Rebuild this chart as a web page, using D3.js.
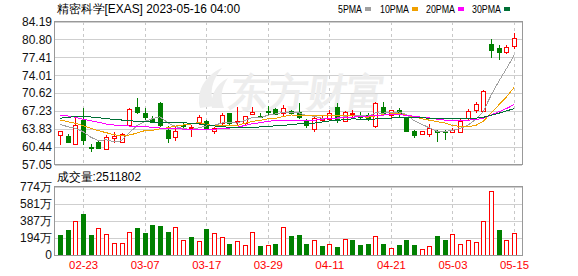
<!DOCTYPE html>
<html>
<head>
<meta charset="utf-8">
<title>EXAS daily</title>
<style>
  body { margin: 0; background: #fff; }
  text { font-family: "Liberation Sans", Arial, sans-serif; }
</style>
</head>
<body>
<script src="https://d3js.org/d3.v7.min.js"></script>
<script>

// trading days shown (2023)
var dates = ['02-17','02-21','02-22','02-23','02-24','02-27','02-28','03-01','03-02','03-03',
             '03-06','03-07','03-08','03-09','03-10','03-13','03-14','03-15','03-16','03-17',
             '03-20','03-21','03-22','03-23','03-24','03-27','03-28','03-29','03-30','03-31',
             '04-03','04-04','04-05','04-06','04-10','04-11','04-12','04-13','04-14','04-17',
             '04-18','04-19','04-20','04-21','04-24','04-25','04-26','04-27','04-28','05-01',
             '05-02','05-03','05-04','05-05','05-08','05-09','05-10','05-11','05-12','05-15'];

var open  = [62.68,62.55,61.03,65.52,60.35,61.41,60.03,62.05,61.41,64.57,
             68.04,66.79,65.71,68.69,63.62,62.35,64.48,64.05,65.01,65.39,
             63.49,64.89,66.85,65.05,64.89,66.66,66.34,67.32,67.55,66.79,
             67.28,67.09,65.33,63.82,65.52,65.71,68.04,65.33,66.72,66.19,
             66.47,64.44,68.04,66.47,67.42,65.96,63.44,62.81,62.81,63.44,
             63.50,63.34,63.30,65.96,67.42,67.23,79.87,79.11,78.35,79.60];
var close = [63.44,61.41,64.57,61.73,60.16,60.22,62.24,62.55,62.81,67.61,
             67.09,66.15,65.20,64.57,62.05,63.49,64.29,64.20,66.03,63.95,
             64.00,66.47,64.95,65.33,66.28,66.98,66.24,67.23,66.66,67.74,
             66.79,66.15,64.57,65.96,65.84,66.79,65.52,66.98,66.85,66.09,
             65.71,68.69,66.79,67.42,66.60,63.44,62.68,63.44,64.06,63.35,
             63.25,63.63,65.24,67.23,68.50,71.02,78.79,78.35,79.41,81.01];
var high  = [63.44,62.81,65.84,67.85,60.92,61.54,62.68,63.19,63.00,67.85,
             69.63,67.74,66.28,68.99,64.38,64.20,65.14,64.48,66.47,65.52,
             64.25,66.91,66.94,68.04,66.28,68.04,66.91,68.17,67.74,68.36,
             67.51,68.80,65.71,66.47,66.34,67.42,68.69,67.23,67.42,67.09,
             66.79,68.99,68.99,67.42,67.74,65.96,63.63,63.44,64.70,63.63,
             63.72,63.95,65.62,67.61,68.99,71.21,80.87,79.74,79.74,81.95];
var low   = [60.78,61.11,60.78,60.78,59.51,60.03,59.84,61.11,61.16,64.20,
             66.60,65.52,64.89,64.20,61.16,61.54,63.63,62.35,64.57,63.63,
             62.87,64.57,64.57,64.57,64.29,66.47,65.84,66.47,66.47,66.15,
             66.66,65.65,64.06,63.30,65.20,65.33,64.89,65.09,66.15,65.52,
             65.33,63.95,66.34,65.84,66.15,63.30,62.05,62.81,62.35,61.29,
             61.73,62.99,63.30,65.52,66.79,67.09,77.22,76.89,77.97,78.98];

// moving averages as drawn
var ma5  = [64.71,64.25,63.95,63.30,62.26,61.62,61.78,61.38,61.59,63.08,
            64.47,65.24,65.77,66.12,65.01,64.29,63.92,63.72,64.01,64.39,
            64.49,64.95,65.08,64.94,65.41,66.00,65.96,66.41,66.68,66.97,
            66.93,66.91,66.38,66.24,65.86,65.86,65.74,66.22,66.40,66.45,
            66.23,66.86,66.83,66.94,67.04,66.59,65.39,64.72,64.04,63.39,
            63.33,63.55,63.90,64.54,65.59,67.12,70.16,72.78,75.21,77.72];
var ma10 = [65.52,65.20,64.89,64.44,63.95,63.49,63.12,62.75,62.50,62.67,
            63.03,63.51,63.57,63.85,64.04,64.38,64.58,64.75,65.07,64.70,
            64.41,64.43,64.40,64.48,64.90,65.25,65.45,65.75,65.80,66.18,
            66.47,66.44,66.40,66.46,66.42,66.40,66.33,66.30,66.32,66.15,
            66.05,66.30,66.52,66.67,66.74,66.41,66.13,65.77,65.49,65.21,
            64.97,64.47,64.31,64.29,64.48,65.24,66.85,68.34,69.88,71.65];
var ma20 = [66.47,66.28,66.03,65.65,65.39,65.09,64.76,64.57,64.44,64.38,
            64.32,64.25,64.14,64.00,63.95,63.90,63.80,63.75,63.70,63.69,
            63.72,63.97,63.99,64.17,64.47,64.81,65.01,65.25,65.44,65.45,
            65.43,65.43,65.40,65.47,65.66,65.82,65.89,66.02,66.06,66.17,
            66.26,66.37,66.46,66.56,66.58,66.40,66.23,66.04,65.91,65.68,
            65.51,65.38,65.42,65.48,65.61,65.82,66.49,67.06,67.68,68.43];
var ma30 = [65.84,66.03,66.15,66.15,66.09,65.96,65.77,65.65,65.52,65.39,
            65.27,65.20,65.14,65.08,65.08,65.01,65.00,64.90,64.80,64.60,
            64.40,64.25,64.15,64.15,64.15,64.15,64.20,64.35,64.40,64.52,
            64.63,64.79,64.79,64.93,65.12,65.34,65.45,65.60,65.73,65.68,
            65.64,65.72,65.77,65.87,66.02,66.02,65.97,65.94,65.87,65.85,
            65.83,65.73,65.74,65.81,65.88,66.02,66.43,66.80,67.23,67.67];

// volume in 万 shares, and whether the bar is drawn as an "up" day
var volume = [227,283,381,465,227,302,238,132,132,261,
              306,253,340,329,264,317,170,204,159,295,
              245,200,125,159,110,261,102,110,125,313,
              215,227,125,166,102,121, 91,178,170,113,
              125,212,125, 76,113,170,113, 64,102,215,
              170,238,125,170,147,385,725,283,170,251.1802];
var volUp = [0,0,1,0,0,1,1,1,1,1, 0,0,0,0,0,1,1,0,1,0,
             1,1,0,1,1,1,0,1,0,1, 0,0,0,1,0,1,0,1,0,0,
             0,1,0,1,0,0,0,1,1,0, 0,1,1,1,1,1,1,0,1,1];

var priceTicks = [57.05, 60.44, 63.83, 67.23, 70.62, 74.01, 77.41, 80.80, 84.19];
var volTicks = [0, 194, 387, 581, 774];
var xTicks = ['02-23','03-07','03-17','03-29','04-11','04-21','05-03','05-15'];

var maNames = ['5PMA', '10PMA', '20PMA', '30PMA'];
var maColors = ['#a0a0a0', '#f0a000', '#ff00ff', '#006f35'];
var upColor = '#ff0000', downColor = '#008000';

var width = 578, height = 276,
    left = 55, right = 522,
    priceTop = 21.5, priceBottom = 164.7,
    volTop = 186.7, volBottom = 255;

var svg = d3.select('body').append('svg')
    .attr('width', width)
    .attr('height', height)
    .style('display', 'block');

var x = d3.scalePoint().domain(dates).range([60, 514]);
var yP = d3.scaleLinear().domain([57.05, 84.19]).range([priceBottom, priceTop]);
var yV = d3.scaleLinear().domain([0, 774]).range([volBottom, volTop]);

function px(d) { return Math.round(x(d)) + 0.5; }

// ---- grids ----
var grid = svg.append('g').attr('shape-rendering', 'crispEdges');

grid.selectAll('.hp').data(priceTicks).enter().append('line')
    .attr('x1', left).attr('x2', right)
    .attr('y1', function (d) { return Math.round(yP(d)) + 0.5; })
    .attr('y2', function (d) { return Math.round(yP(d)) + 0.5; })
    .attr('stroke', '#cfcfcf');

grid.selectAll('.hv').data(volTicks).enter().append('line')
    .attr('x1', left).attr('x2', right)
    .attr('y1', function (d) { return Math.round(yV(d)) + 0.5; })
    .attr('y2', function (d) { return Math.round(yV(d)) + 0.5; })
    .attr('stroke', '#cfcfcf');

[[priceTop, priceBottom], [volTop, volBottom]].forEach(function (r) {
    grid.selectAll(null).data(xTicks).enter().append('line')
        .attr('x1', px).attr('x2', px)
        .attr('y1', r[0]).attr('y2', r[1])
        .attr('stroke', '#c8c8c8')
        .attr('stroke-dasharray', '3,3');
});

// ---- watermark ----
var wm = svg.append('g').attr('fill', '#ededed');
wm.append('path')
    .attr('d', 'M200,108 C196,92 204,76 222,68 C212,80 209,92 214,106 Z M212,108 C210,96 216,84 228,78 C221,88 220,98 224,108 Z');
wm.append('text')
    .attr('x', 229).attr('y', 106)
    .attr('font-family', '"Noto Sans CJK SC"')
    .attr('font-weight', 'bold')
    .attr('font-size', 39)
    .attr('transform', 'skewX(-8) translate(14,0)')
    .text('东方财富');

// ---- candles ----
var idx = d3.range(dates.length);
var candles = svg.append('g').attr('shape-rendering', 'crispEdges');

candles.selectAll('.wick').data(idx).enter().append('line')
    .attr('x1', function (i) { return px(dates[i]); })
    .attr('x2', function (i) { return px(dates[i]); })
    .attr('y1', function (i) { return yP(high[i]); })
    .attr('y2', function (i) { return yP(low[i]); })
    .attr('stroke', function (i) { return close[i] >= open[i] ? upColor : downColor; });

candles.selectAll('.body').data(idx).enter().append('rect')
    .attr('x', function (i) { return px(dates[i]) - 2; })
    .attr('width', 4)
    .attr('y', function (i) { return Math.round(yP(Math.max(open[i], close[i]))) + 0.5; })
    .attr('height', function (i) {
        return Math.max(1, Math.round(yP(Math.min(open[i], close[i]))) - Math.round(yP(Math.max(open[i], close[i]))));
    })
    .attr('fill', function (i) { return close[i] >= open[i] ? '#fff' : downColor; })
    .attr('stroke', function (i) { return close[i] >= open[i] ? upColor : downColor; });

// ---- moving averages ----
[ma5, ma10, ma20, ma30].forEach(function (ma, k) {
    var line = d3.line()
        .x(function (d, i) { return x(dates[i]); })
        .y(function (d) { return yP(d); });
    svg.append('path')
        .attr('d', line(ma))
        .attr('fill', 'none')
        .attr('stroke', maColors[k])
        .attr('stroke-width', 1)
        .attr('shape-rendering', 'crispEdges');
});

// ---- volume ----
var vol = svg.append('g').attr('shape-rendering', 'crispEdges');
vol.selectAll('rect').data(idx).enter().append('rect')
    .attr('x', function (i) { return px(dates[i]) - 2; })
    .attr('width', 4)
    .attr('y', function (i) { return Math.round(yV(volume[i])) + 0.5; })
    .attr('height', function (i) { return volBottom - Math.round(yV(volume[i])) - 0.5; })
    .attr('fill', function (i) { return volUp[i] ? '#fff' : downColor; })
    .attr('stroke', function (i) { return volUp[i] ? upColor : downColor; });

// ---- frames ----
var frame = svg.append('g').attr('fill', 'none').attr('stroke', '#999').attr('shape-rendering', 'crispEdges');
frame.append('rect').attr('x', left - 0.5).attr('y', priceTop).attr('width', right - left + 0.5).attr('height', priceBottom - priceTop);
frame.append('rect').attr('x', left - 0.5).attr('y', volTop).attr('width', right - left + 0.5).attr('height', volBottom - volTop);

// ---- axes ----
var yAxisP = d3.axisLeft(yP).tickValues(priceTicks).tickFormat(d3.format('.2f')).tickSize(0).tickPadding(3);
svg.append('g').attr('transform', 'translate(' + left + ',0)').call(yAxisP)
    .call(function (g) { g.select('.domain').remove(); })
    .selectAll('text').attr('font-size', 12).attr('fill', '#111')
    .attr('font-family', '"Liberation Sans", Arial, sans-serif');

var yAxisV = d3.axisLeft(yV).tickValues(volTicks)
    .tickFormat(function (d) { return d ? d + '万' : '0'; })
    .tickSize(0).tickPadding(3);
svg.append('g').attr('transform', 'translate(' + left + ',0)').call(yAxisV)
    .call(function (g) { g.select('.domain').remove(); })
    .selectAll('text').attr('font-size', 12).attr('fill', '#111')
    .attr('font-family', '"Liberation Sans", "Noto Sans CJK SC", sans-serif');

var xAxis = d3.axisBottom(x).tickValues(xTicks).tickSize(0).tickPadding(6);
svg.append('g').attr('transform', 'translate(0,' + volBottom + ')').call(xAxis)
    .call(function (g) { g.select('.domain').remove(); })
    .selectAll('text').attr('font-size', 11).attr('fill', upColor)
    .attr('font-family', '"DejaVu Sans Mono", monospace')
    .attr('textLength', 29).attr('lengthAdjust', 'spacingAndGlyphs');

// ---- titles & legend ----
svg.append('text')
    .attr('x', 57).attr('y', 13)
    .attr('font-size', 12).attr('fill', '#000')
    .attr('font-family', '"Noto Sans CJK SC", sans-serif')
    .attr('textLength', 183).attr('lengthAdjust', 'spacingAndGlyphs')
    .text('精密科学[EXAS] 2023-05-16 04:00');

svg.append('text')
    .attr('x', 57).attr('y', 181)
    .attr('font-size', 12).attr('fill', '#000')
    .attr('font-family', '"Noto Sans CJK SC", sans-serif')
    .attr('textLength', 84).attr('lengthAdjust', 'spacingAndGlyphs')
    .text('成交量:' + Math.round(volume[volume.length - 1] * 10000));

var legendX = [338, 380, 426, 472],
    legendW = [24, 29, 29, 29];
var legend = svg.append('g');
maNames.forEach(function (name, k) {
    legend.append('text')
        .attr('x', legendX[k]).attr('y', 13)
        .attr('font-size', 11).attr('fill', '#000')
        .attr('font-family', '"DejaVu Sans Mono", monospace')
        .attr('textLength', legendW[k]).attr('lengthAdjust', 'spacingAndGlyphs')
        .text(name);
    legend.append('rect')
        .attr('x', legendX[k] + legendW[k] + 3).attr('y', 7)
        .attr('width', 6).attr('height', 4)
        .attr('fill', maColors[k]);
});

</script>
</body>
</html>
